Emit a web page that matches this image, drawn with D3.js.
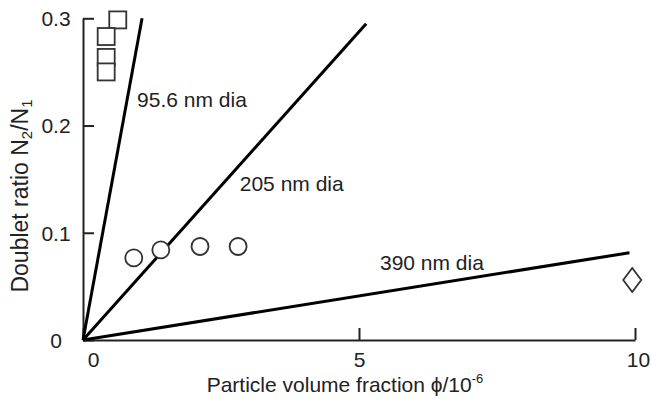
<!DOCTYPE html>
<html><head><meta charset="utf-8">
<script src="https://cdn.jsdelivr.net/npm/d3@7"></script>
<style>
body{margin:0;background:#fff;}
text{font-family:"Liberation Sans",Arial,sans-serif;fill:#222;}
</style></head>
<body><svg id="c" width="651" height="403"></svg>
<script>
// Data
const xTicks = [0, 5, 10];
const yTicks = [0, 0.1, 0.2, 0.3];
const yTickLabels = ["0", "0.1", "0.2", "0.3"];
// fitted lines: origin to end point
const lineNames = ["95.6 nm dia", "205 nm dia", "390 nm dia"];
const lineEndX = [1.07, 5.13, 9.9];
const lineEndY = [0.300, 0.295, 0.0814];
const labelX = [0.98, 2.84, 5.38];
const labelY = [0.217, 0.139, 0.065];
// measurements
const squareX = [0.63, 0.42, 0.42, 0.42];
const squareY = [0.2985, 0.283, 0.2635, 0.250];
const circleX = [0.92, 1.41, 2.12, 2.81];
const circleY = [0.0765, 0.084, 0.0872, 0.0872];
const diamondX = [9.95];
const diamondY = [0.056];

const svg = d3.select("#c");
const x = d3.scaleLinear().domain([0, 10]).range([83, 635]);
const y = d3.scaleLinear().domain([0, 0.3]).range([340, 18.3]);
const ink = "#222";
const fs = 21;

// X axis
const gx = svg.append("g").attr("transform", "translate(0,340)")
  .call(d3.axisBottom(x).tickValues(xTicks).tickFormat(d3.format("d")).tickSize(-12).tickSizeOuter(0).tickPadding(12));
gx.select(".domain").attr("stroke", ink).attr("stroke-width", 2);
gx.selectAll(".tick line").attr("stroke", ink).attr("stroke-width", 2);
gx.selectAll(".tick text").attr("font-size", fs).attr("fill", ink)
  .attr("font-family", "Liberation Sans, Arial, sans-serif")
  .attr("dx", d => d === 0 ? 10 : (d === 10 ? 3 : 0));

// Y axis
const gy = svg.append("g").attr("transform", "translate(83,0)")
  .call(d3.axisLeft(y).tickValues(yTicks).tickFormat((d, i) => yTickLabels[i]).tickSize(-11).tickSizeOuter(0));
gy.select(".domain").attr("stroke", ink).attr("stroke-width", 2);
gy.selectAll(".tick line").attr("stroke", ink).attr("stroke-width", 2);
gy.selectAll(".tick text").attr("font-size", fs).attr("fill", ink)
  .attr("font-family", "Liberation Sans, Arial, sans-serif")
  .attr("text-anchor", "middle").attr("x", -27).attr("dy", "0.35em");

// Lines
const lineData = lineNames.map((n, i) => ({name: n, x1: 0, y1: 0, x2: lineEndX[i], y2: lineEndY[i], lx: labelX[i], ly: labelY[i]}));
svg.selectAll("line.fit").data(lineData).enter().append("line").attr("class", "fit")
  .attr("x1", d => x(d.x1)).attr("y1", d => y(d.y1))
  .attr("x2", d => x(d.x2)).attr("y2", d => y(d.y2))
  .attr("stroke", "#000").attr("stroke-width", 3).attr("stroke-linecap", "butt");
svg.selectAll("text.lab").data(lineData).enter().append("text").attr("class", "lab")
  .attr("x", d => x(d.lx)).attr("y", d => y(d.ly)).attr("font-size", fs).text(d => d.name);

// Markers
const sq = 17;
svg.selectAll("rect.sq").data(squareX.map((v, i) => [v, squareY[i]])).enter().append("rect")
  .attr("x", d => x(d[0]) - sq / 2).attr("y", d => y(d[1]) - sq / 2)
  .attr("width", sq).attr("height", sq).attr("fill", "#fff").attr("stroke", "#333").attr("stroke-width", 1.8);
svg.selectAll("circle.ci").data(circleX.map((v, i) => [v, circleY[i]])).enter().append("circle")
  .attr("cx", d => x(d[0])).attr("cy", d => y(d[1])).attr("r", 8.5)
  .attr("fill", "#fff").attr("stroke", "#333").attr("stroke-width", 1.8);
svg.selectAll("path.di").data(diamondX.map((v, i) => [v, diamondY[i]])).enter().append("path")
  .attr("d", d => { const cx = x(d[0]), cy = y(d[1]); return `M${cx},${cy-12}L${cx+9},${cy}L${cx},${cy+12}L${cx-9},${cy}Z`; })
  .attr("fill", "#fff").attr("stroke", "#333").attr("stroke-width", 1.8);

// Axis titles
const xt = svg.append("text").attr("x", 345).attr("y", 392).attr("text-anchor", "middle").attr("font-size", fs);
xt.append("tspan").text("Particle volume fraction \u03D5/10");
xt.append("tspan").attr("font-size", 13).attr("dy", -9).text("-6");

const yt = svg.append("text").attr("transform", "translate(28,196) rotate(-90)").attr("text-anchor", "middle").attr("font-size", 23);
yt.append("tspan").text("Doublet ratio N");
yt.append("tspan").attr("font-size", 15).attr("dy", 4).text("2");
yt.append("tspan").attr("dy", -4).text("/N");
yt.append("tspan").attr("font-size", 15).attr("dy", 4).text("1");
</script></body></html>
